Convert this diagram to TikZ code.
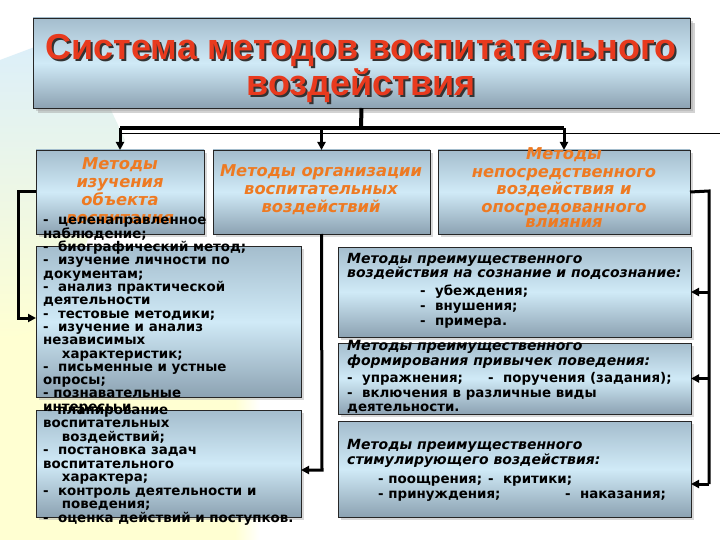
\documentclass[tikz,border=0pt]{standalone}
\usepackage{fontspec}
\setmainfont{DejaVu Sans}
\newfontfamily\titlefont{Liberation Sans}
\usetikzlibrary{arrows.meta,calc,shadows}
\definecolor{boxtop}{HTML}{A4BDCD}
\definecolor{boxmid}{HTML}{D0EAF7}
\definecolor{boxbot}{HTML}{8CA2B2}
\definecolor{titlered}{HTML}{E83A1E}
\definecolor{hdrorange}{HTML}{EE7A22}
\definecolor{bgblue}{HTML}{DCEFF9}
\definecolor{bgyellow}{HTML}{FFFFD2}
\begin{document}
\begin{tikzpicture}[x=1pt,y=-1pt,
  panel/.style={draw=black!85, line width=0.7pt, top color=boxtop, bottom color=boxbot, middle color=boxmid,
    anchor=north west, inner sep=0pt, outer sep=0pt,
    drop shadow={shadow xshift=3pt, shadow yshift=-3pt, fill=black!30}},
  conn/.style={line width=3pt, draw=black},
  tip/.style={-{Triangle[length=8pt,width=8pt]}},
  listtxt/.style={font=\bfseries\fontsize{13.4}{14}\selectfont, inner sep=0pt, anchor=base west, text=black},
  ittxt/.style={font=\bfseries\itshape\fontsize{14}{15}\selectfont, inner sep=0pt, anchor=base west, text=black},
  hdrtxt/.style={font=\bfseries\itshape\fontsize{16.3}{17}\selectfont, inner sep=0pt, anchor=base, text=hdrorange},
  ttltxt/.style={font=\titlefont\bfseries\fontsize{36}{38}\selectfont, inner sep=0pt, anchor=base}
]
\useasboundingbox (0,0) rectangle (720,540);
% background
\fill[white] (0,0) rectangle (720,540);
\fill[bgyellow] (0,300) rectangle (235,540);
\shade[left color=bgyellow, right color=white] (235,360) rectangle (260,540);
\shade[top color=bgblue, bottom color=bgyellow] (0,60) -- (40,45) -- (110,108) -- (125,140) -- (80,260) -- (36,330) -- (0,340) -- cycle;

% boxes
\node[panel, minimum width=657pt, minimum height=90pt, drop shadow={shadow xshift=5pt, shadow yshift=-5pt, fill=black!35}] (title) at (33,18) {};
\node[panel, minimum width=168pt, minimum height=84pt] (b1) at (36,150) {};
\node[panel, minimum width=217pt, minimum height=84pt] (b2) at (213,150) {};
\node[panel, minimum width=252pt, minimum height=84pt] (b3) at (438,150) {};
\node[panel, minimum width=265pt, minimum height=151pt] (l1) at (36,246) {};
\node[panel, minimum width=265pt, minimum height=107pt] (l2) at (36,410) {};
\node[panel, minimum width=353pt, minimum height=90pt] (rA) at (338,247) {};
\node[panel, minimum width=353pt, minimum height=71pt] (rB) at (338,343) {};
\node[panel, minimum width=353pt, minimum height=96pt] (rC) at (338,421) {};

% title text
\node[ttltxt, text=black!80] (t1s) at (363,62) {Система методов воспитательного};
\node[ttltxt, text=titlered] (t1) at (361,60) {Система методов воспитательного};
\node[ttltxt, text=black!80] (t2s) at (363,98) {воздействия};
\node[ttltxt, text=titlered] (t2) at (361,96) {воздействия};

% connectors from title
\coordinate (bar) at (361,128);
\coordinate (thinR) at (720,134);
\draw[line width=1pt] (b1.north |- thinR) -- (thinR);
\draw[line width=4pt] (title.south) -- (bar);
\draw[line width=4pt] (b1.north |- bar) -- (b3.north |- bar);
\draw[conn, tip] (b1.north |- bar) -- (b1.north);
\draw[conn, tip] (b2.north |- bar) -- (b2.north);
\draw[conn, tip] (b3.north |- bar) -- (b3.north);

% header texts
\node[hdrtxt] (h1a) at (120,170) {Методы};
\node[hdrtxt] (h1b) at (120,188) {изучения};
\node[hdrtxt] (h1c) at (120,206) {объекта};
\node[hdrtxt] (h1d) at (120,223) {воспитания};
\node[hdrtxt] (h2a) at (321,177) {Методы организации};
\node[hdrtxt] (h2b) at (321,195) {воспитательных};
\node[hdrtxt] (h2c) at (321,212) {воздействий};
\node[hdrtxt] (h3a) at (564,160) {Методы};
\node[hdrtxt] (h3b) at (564,178) {непосредственного};
\node[hdrtxt] (h3c) at (564,195) {воздействия и};
\node[hdrtxt] (h3d) at (564,212) {опосредованного};
\node[hdrtxt] (h3e) at (564,228) {влияния};

% left list 1
\foreach \t [count=\i from 0] in {{-~ целенаправленное},{наблюдение;},{-~ биографический метод;},{-~ изучение личности по},{документам;},{-~ анализ практической},{деятельности},{-~ тестовые методики;},{-~ изучение и анализ},{независимых},{\hspace*{1.4em}характеристик;},{-~ письменные и устные},{опросы;},{- познавательные},{интересы и}}
  \node[listtxt] (la\i) at (43,{225+13.3*\i}) {\t};
% left list 2
\foreach \t [count=\i from 0] in {{\hspace*{0.3em}- планирование},{воспитательных},{\hspace*{1.4em}воздействий;},{-~ постановка задач},{воспитательного},{\hspace*{1.4em}характера;},{-~ контроль деятельности и},{\hspace*{1.4em}поведения;},{-~ оценка действий и поступков.}}
  \node[listtxt] (lb\i) at (43,{414+13.5*\i}) {\t};

% right box A
\node[ittxt] (ra1) at (347,263) {Методы преимущественного};
\node[ittxt] (ra2) at (347,277) {воздействия на сознание и подсознание:};
\node[listtxt] (ra3) at (420,295) {-~ убеждения;};
\node[listtxt] (ra4) at (420,310) {-~ внушения;};
\node[listtxt] (ra5) at (420,325) {-~ примера.};
% right box B
\node[ittxt] (rb1) at (347,350) {Методы преимущественного};
\node[ittxt] (rb2) at (347,365) {формирования привычек поведения:};
\node[listtxt] (rb3) at (347,382) {-~ упражнения;};
\node[listtxt] (rb3b) at (488,382) {-~ поручения (задания);};
\node[listtxt] (rb4) at (347,397) {-~ включения в различные виды};
\node[listtxt] (rb5) at (347,411) {деятельности.};
% right box C
\node[ittxt] (rc1) at (347,449) {Методы преимущественного};
\node[ittxt] (rc2) at (347,464) {стимулирующего воздействия:};
\node[listtxt] (rc3) at (378,483) {- поощрения;};
\node[listtxt] (rc3b) at (488,483) {-~ критики;};
\node[listtxt] (rc4) at (378,498) {- принуждения;};
\node[listtxt] (rc4b) at (565,498) {-~ наказания;};

% side connectors
\coordinate (lfoot) at (18,318);
\draw[conn, tip] (b1.west) -| (lfoot) -- (l1.west |- lfoot);
\coordinate (mfoot) at (322,470);
\draw[conn, tip] (b2.south) -- (mfoot) -- (l2.east |- mfoot);
\coordinate (rtop) at (709,191);
\coordinate (rfoot) at (709,484);
\draw[conn] (b3.east) -- (rtop) -- (rfoot);
\draw[conn, tip] (rtop |- rA.east) -- (rA.east);
\draw[conn, tip] (rtop |- rB.east) -- (rB.east);
\draw[conn, tip] (rfoot) -- (rC.east |- rfoot);
\end{tikzpicture}
\end{document}
